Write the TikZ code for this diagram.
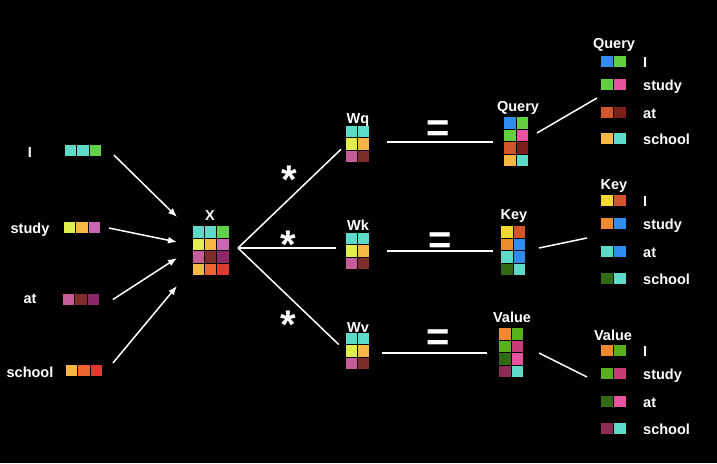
\documentclass[tikz,border=0pt]{standalone}
\usepackage{fontspec}
\setmainfont{Liberation Sans}
\usetikzlibrary{arrows.meta, calc}

\definecolor{teal}{HTML}{5EDBC8}
\definecolor{lime}{HTML}{63D04C}
\definecolor{lemon}{HTML}{E2EE4E}
\definecolor{amber}{HTML}{F7B746}
\definecolor{orchid}{HTML}{C966B2}
\definecolor{rose}{HTML}{C65C98}
\definecolor{maroon}{HTML}{7E2C2C}
\definecolor{plum}{HTML}{8B2767}
\definecolor{tangerine}{HTML}{EE6433}
\definecolor{scarlet}{HTML}{DE3A2E}
\definecolor{azure}{HTML}{2F8DF2}
\definecolor{grass}{HTML}{62CF3E}
\definecolor{hotpink}{HTML}{E8529E}
\definecolor{rust}{HTML}{D2552C}
\definecolor{wine}{HTML}{7A1F1A}
\definecolor{gold}{HTML}{F5D835}
\definecolor{orange}{HTML}{F08A2E}
\definecolor{forest}{HTML}{306A14}
\definecolor{leaf}{HTML}{58B01E}
\definecolor{berry}{HTML}{C83D78}
\definecolor{grape}{HTML}{8E2B55}

% cells of a matrix node: col/row/colour, pitch x and y
\newcommand{\grid}[4]{%
    \foreach \c/\r/\col in {#4} {
        \fill[\col] ($(#1.north west)+(\c*#2,\r*#3)$) rectangle +(#2-1,#3-1);
    }}

\begin{document}
\begin{tikzpicture}[x=1pt, y=-1pt,
        word/.style={text=white, inner sep=0, font=\fontsize{14.5}{16}\selectfont\bfseries},
        sign/.style={text=white, inner sep=0, font=\fontsize{40}{44}\selectfont\bfseries},
        mat/.style={inner sep=0, outer sep=0, anchor=north west},
        line/.style={white, line width=1.5pt},
        arr/.style={white, line width=1.5pt, -{Latex[length=9pt, width=7pt]}}]
        \fill[black] (0,0) rectangle (717,463);
        \useasboundingbox (0,0) rectangle (717,463);

        % words and their vectors
        \node[word, anchor=base] (wI) at (30,157) {I};
        \node[word, anchor=base] (wStudy) at (30,233) {study};
        \node[word, anchor=base] (wAt) at (30,303) {at};
        \node[word, anchor=base] (wSchool) at (30,377) {school};

        \node[mat, minimum width=36.9pt, minimum height=12pt] (vI) at (65,145) {};
        \node[mat, minimum width=36.9pt, minimum height=12pt] (vStudy) at (64,222) {};
        \node[mat, minimum width=36.9pt, minimum height=12pt] (vAt) at (63,293.5) {};
        \node[mat, minimum width=36.9pt, minimum height=12pt] (vSchool) at (66,365) {};
        \grid{vI}{12.3}{12}{0/0/teal,1/0/teal,2/0/lime}
        \grid{vStudy}{12.3}{12}{0/0/lemon,1/0/amber,2/0/orchid}
        \grid{vAt}{12.3}{12}{0/0/rose,1/0/maroon,2/0/plum}
        \grid{vSchool}{12.3}{12}{0/0/amber,1/0/tangerine,2/0/scarlet}

        % X
        \node[mat, minimum width=36.6pt, minimum height=50pt] (X) at (193,226) {};
        \grid{X}{12.2}{12.5}{0/0/teal,1/0/teal,2/0/lime,0/1/lemon,1/1/amber,2/1/orchid,
            0/2/rose,1/2/maroon,2/2/plum,0/3/amber,1/3/tangerine,2/3/scarlet}
        \node[word, anchor=base] (lX) at (210,220) {X};

        \draw[arr] ($(vI.east)+(12,4)$) -- ($(X.west)+(-16,-34)$);
        \draw[arr] ($(vStudy.east)+(8,0)$) -- ($(X.west)+(-16,-9)$);
        \draw[arr] ($(vAt.east)+(13,0)$) -- ($(X.west)+(-16,7)$);
        \draw[arr] ($(vSchool.east)+(10,-8)$) -- ($(X.west)+(-16,35)$);

        % weights
        \node[mat, minimum width=24pt, minimum height=37pt] (Wq) at (346,126) {};
        \node[mat, minimum width=24pt, minimum height=37pt] (Wk) at (346,233) {};
        \node[mat, minimum width=24pt, minimum height=37pt] (Wv) at (346,333) {};
        \foreach \m in {Wq,Wk,Wv} {
            \grid{\m}{12}{12.3}{0/0/teal,1/0/teal,0/1/lemon,1/1/amber,0/2/rose,1/2/maroon}
        }
        \node[word, anchor=base] (lWq) at (358,123) {Wq};
        \node[word, anchor=base] (lWk) at (358,230) {Wk};
        \node[word, anchor=base] (lWv) at (358,332) {Wv};

        \coordinate (fan) at ($(X.east)+(8.4,-3)$);
        \draw[line, shorten >=7pt] (fan) -- (Wq.west);
        \draw[line, shorten >=10pt] (fan) -- (fan -| Wk.west);
        \draw[line, shorten >=10pt] (fan) -- (Wv.west);

        \node[sign, anchor=base] (star1) at (289,193) {*};
        \node[sign, anchor=base] (star2) at (288,258) {*};
        \node[sign, anchor=base] (star3) at (288,338) {*};

        % results
        \node[mat, minimum width=25pt, minimum height=50pt] (Query) at (504,117) {};
        \node[mat, minimum width=25pt, minimum height=50pt] (Key) at (501,226) {};
        \node[mat, minimum width=25pt, minimum height=50pt] (Value) at (499,328) {};
        \grid{Query}{12.5}{12.5}{0/0/azure,1/0/grass,0/1/grass,1/1/hotpink,0/2/rust,1/2/wine,0/3/amber,1/3/teal}
        \grid{Key}{12.5}{12.5}{0/0/gold,1/0/rust,0/1/orange,1/1/azure,0/2/teal,1/2/azure,0/3/forest,1/3/teal}
        \grid{Value}{12.5}{12.5}{0/0/orange,1/0/leaf,0/1/leaf,1/1/berry,0/2/forest,1/2/hotpink,0/3/grape,1/3/teal}
        \node[word, anchor=base] (lQuery) at (518,111) {Query};
        \node[word, anchor=base] (lKey) at (514,219) {Key};
        \node[word, anchor=base] (lValue) at (512,322) {Value};

        \draw[line, shorten <=17pt, shorten >=11pt] (Query.west -| Wq.east) -- (Query.west);
        \draw[line, shorten <=17pt, shorten >=8pt] (Key.west -| Wk.east) -- (Key.west);
        \draw[line, shorten <=12pt, shorten >=12pt] (Value.west -| Wv.east) -- (Value.west);

        \node[sign, anchor=base] (eq1) at (438,141) {=};
        \node[sign, anchor=base] (eq2) at (440,253) {=};
        \node[sign, anchor=base] (eq3) at (438,350) {=};

        % split per word
        \node[word, anchor=base] (hQuery) at (614,48) {Query};
        \node[word, anchor=base] (hKey) at (614,189) {Key};
        \node[word, anchor=base] (hValue) at (613,340) {Value};
        \foreach \w/\b/\a/\d in {I/67/azure/grass, study/90/grass/hotpink, at/118/rust/wine, school/144/amber/teal} {
            \fill[\a] (601,\b-11) rectangle +(12,11);
            \fill[\d] (613.5,\b-11) rectangle +(12,11);
            \node[word, anchor=base west] (q-\w) at (643,\b) {\w};
        }
        \foreach \w/\b/\a/\d in {I/206/gold/rust, study/229/orange/azure, at/257/teal/azure, school/284/forest/teal} {
            \fill[\a] (601,\b-11) rectangle +(12,11);
            \fill[\d] (613.5,\b-11) rectangle +(12,11);
            \node[word, anchor=base west] (k-\w) at (643,\b) {\w};
        }
        \foreach \w/\b/\a/\d in {I/356/orange/leaf, study/379/leaf/berry, at/407/forest/hotpink, school/434/grape/teal} {
            \fill[\a] (601,\b-11) rectangle +(12,11);
            \fill[\d] (613.5,\b-11) rectangle +(12,11);
            \node[word, anchor=base west] (v-\w) at (643,\b) {\w};
        }

        \coordinate (qtip) at (597,98);
        \coordinate (ktip) at (587,238);
        \coordinate (vtip) at (587,377);
        \draw[line] ($(Query.east)+(8,-9)$) -- (qtip);
        \draw[line] ($(Key.east)+(13,-3)$) -- (ktip);
        \draw[line] ($(Value.east)+(15,0)$) -- (vtip);

    \end{tikzpicture}
\end{document}
